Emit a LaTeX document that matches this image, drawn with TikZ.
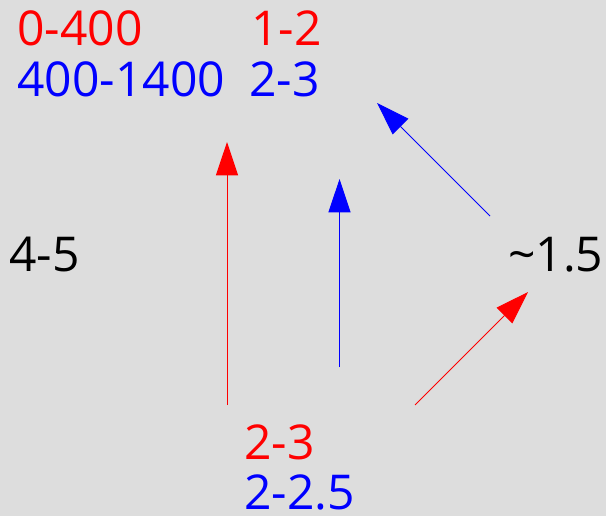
\documentclass[tikz,border=0pt]{standalone}
\usepackage{fontspec}
\setmainfont{Open Sans}
\usetikzlibrary{positioning, arrows.meta}
\definecolor{cRange}{HTML}{FF0000}
\definecolor{cBand}{HTML}{0000FF}
\definecolor{cBack}{HTML}{DDDDDD}
\tikzset{
  valtext/.style={
    text=#1, inner sep=0pt, anchor=base west,
    font=\fontsize{36}{40}\selectfont
  },
  flowarrow/.style={
    -{Triangle[length=25pt, width=16.5pt]}, line width=0.75pt, color=#1
  },
}

\begin{document}
\begin{tikzpicture}[x=0.75pt, y=-0.75pt]

% ---- Canvas ----
\fill[cBack] (0,0) rectangle (606,516);
\useasboundingbox (0,0) rectangle (606,516);

% ---- Top labels ----
\node[valtext=cRange] (lowrange) at (17,46) {0-400};
\node[valtext=cBand] (highrange) at (17,97) {400-1400};
\node[valtext=cRange] (topred) at (251,46) {1-2};
\node[valtext=cBand] (topblue) at (249,97) {2-3};

% ---- Side labels ----
\node[valtext=black] (leftval) at (9,272) {4-5};
\node[valtext=black] (rightval) at (508,272) {{\char"7E}1.5};

% ---- Bottom labels ----
\node[valtext=cRange] (botred) at (244,459) {2-3};
\node[valtext=cBand] (botblue) at (244,509) {2-2.5};

% ---- Arrow ends ----
\coordinate (redup0) at (227,405);
\coordinate (redup1) at (227,142);
\coordinate (blueup0) at (339.5,367);
\coordinate (blueup1) at (339.5,179);
\coordinate (bluediag0) at (490,216);
\coordinate (bluediag1) at (377,103);
\coordinate (reddiag0) at (415,405);
\coordinate (reddiag1) at (528,292);

% ---- Arrows ----
\draw[flowarrow=cRange] (redup0) -- (redup1);
\draw[flowarrow=cBand] (blueup0) -- (blueup1);
\draw[flowarrow=cBand] (bluediag0) -- (bluediag1);
\draw[flowarrow=cRange] (reddiag0) -- (reddiag1);

\end{tikzpicture}
\end{document}
